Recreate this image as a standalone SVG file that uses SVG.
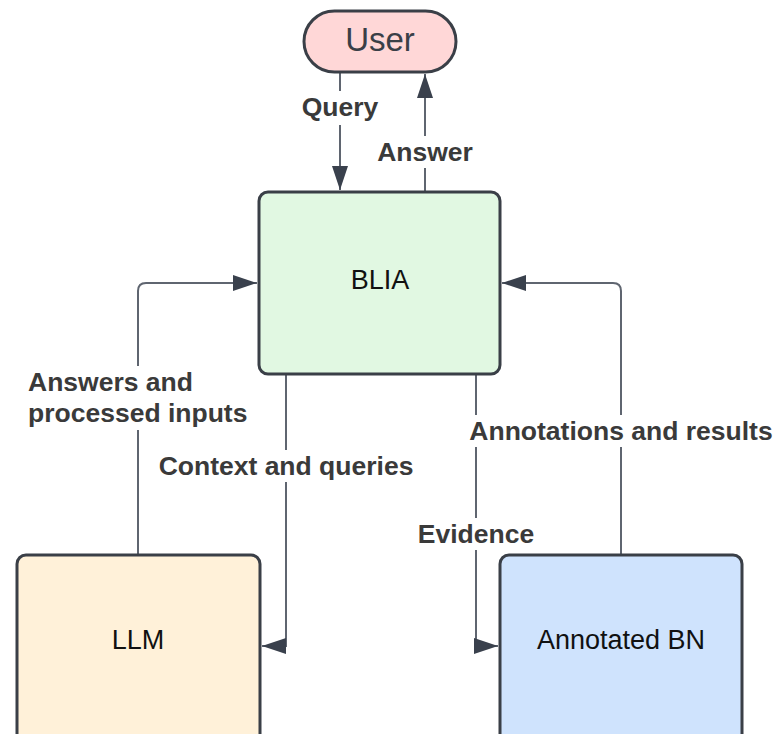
<svg xmlns="http://www.w3.org/2000/svg" width="776" height="734" viewBox="0 0 776 734">
<style>
.node{stroke:#3a3f47;stroke-width:3}
.ntext{font-family:"Liberation Sans",Arial,sans-serif;font-size:27px;fill:#111;text-anchor:middle;dominant-baseline:central}
.conn{fill:none;stroke:#5f6570;stroke-width:2}
.lbl{font-family:"Liberation Sans",Arial,sans-serif;font-size:26.5px;font-weight:bold;fill:#3a3a3a;dominant-baseline:central}
.bg{fill:#fff}
</style>
<defs>
<marker id="ah" viewBox="0 0 24 16" refX="24" refY="8" markerWidth="24" markerHeight="16" markerUnits="userSpaceOnUse" orient="auto">
<path d="M0,0 L24,8 L0,16 Z" fill="#3a414d"/>
</marker>
</defs>
<rect width="776" height="734" fill="#fff"/>
<g id="connectors">
<path class="conn" d="M340,72 V190" marker-end="url(#ah)"/>
<path class="conn" d="M425,192 V74" marker-end="url(#ah)"/>
<path class="conn" d="M138,555 V291 Q138,283 146,283 H257" marker-end="url(#ah)"/>
<path class="conn" d="M621,555 V291 Q621,283 613,283 H502" marker-end="url(#ah)"/>
<path class="conn" d="M286,374 V646 H262" marker-end="url(#ah)"/>
<path class="conn" d="M476,374 V646 H498" marker-end="url(#ah)"/>
<rect class="bg" x="298" y="91" width="84" height="34"/>
<text class="lbl" x="340" y="107" text-anchor="middle">Query</text>
<rect class="bg" x="372" y="136" width="106" height="32"/>
<text class="lbl" x="425" y="152" text-anchor="middle">Answer</text>
<rect class="bg" x="24" y="366" width="228" height="64"/>
<text class="lbl" x="28" y="382">Answers and</text>
<text class="lbl" x="28" y="413">processed inputs</text>
<rect class="bg" x="154" y="450" width="264" height="32"/>
<text class="lbl" x="286" y="466" text-anchor="middle">Context and queries</text>
<rect class="bg" x="466" y="415" width="310" height="32"/>
<text class="lbl" x="621" y="431" text-anchor="middle">Annotations and results</text>
<rect class="bg" x="414" y="518" width="124" height="32"/>
<text class="lbl" x="476" y="534" text-anchor="middle">Evidence</text>
</g>
<g id="user">
<rect class="node" x="304" y="11" width="152" height="61" rx="30.5" fill="#ffd7d7"/>
<text class="ntext" x="380" y="39" style="font-size:33px;fill:#3a3f47">User</text>
</g>
<g id="blia">
<rect class="node" x="259" y="192" width="241" height="182" rx="9" fill="#e1f8e2"/>
<text class="ntext" x="380" y="280">BLIA</text>
</g>
<g id="llm">
<rect class="node" x="17" y="555" width="243" height="200" rx="9" fill="#fff1d9"/>
<text class="ntext" x="138" y="640">LLM</text>
</g>
<g id="bn">
<rect class="node" x="500" y="555" width="242" height="200" rx="9" fill="#cfe3fd"/>
<text class="ntext" x="621" y="640">Annotated BN</text>
</g>
</svg>
